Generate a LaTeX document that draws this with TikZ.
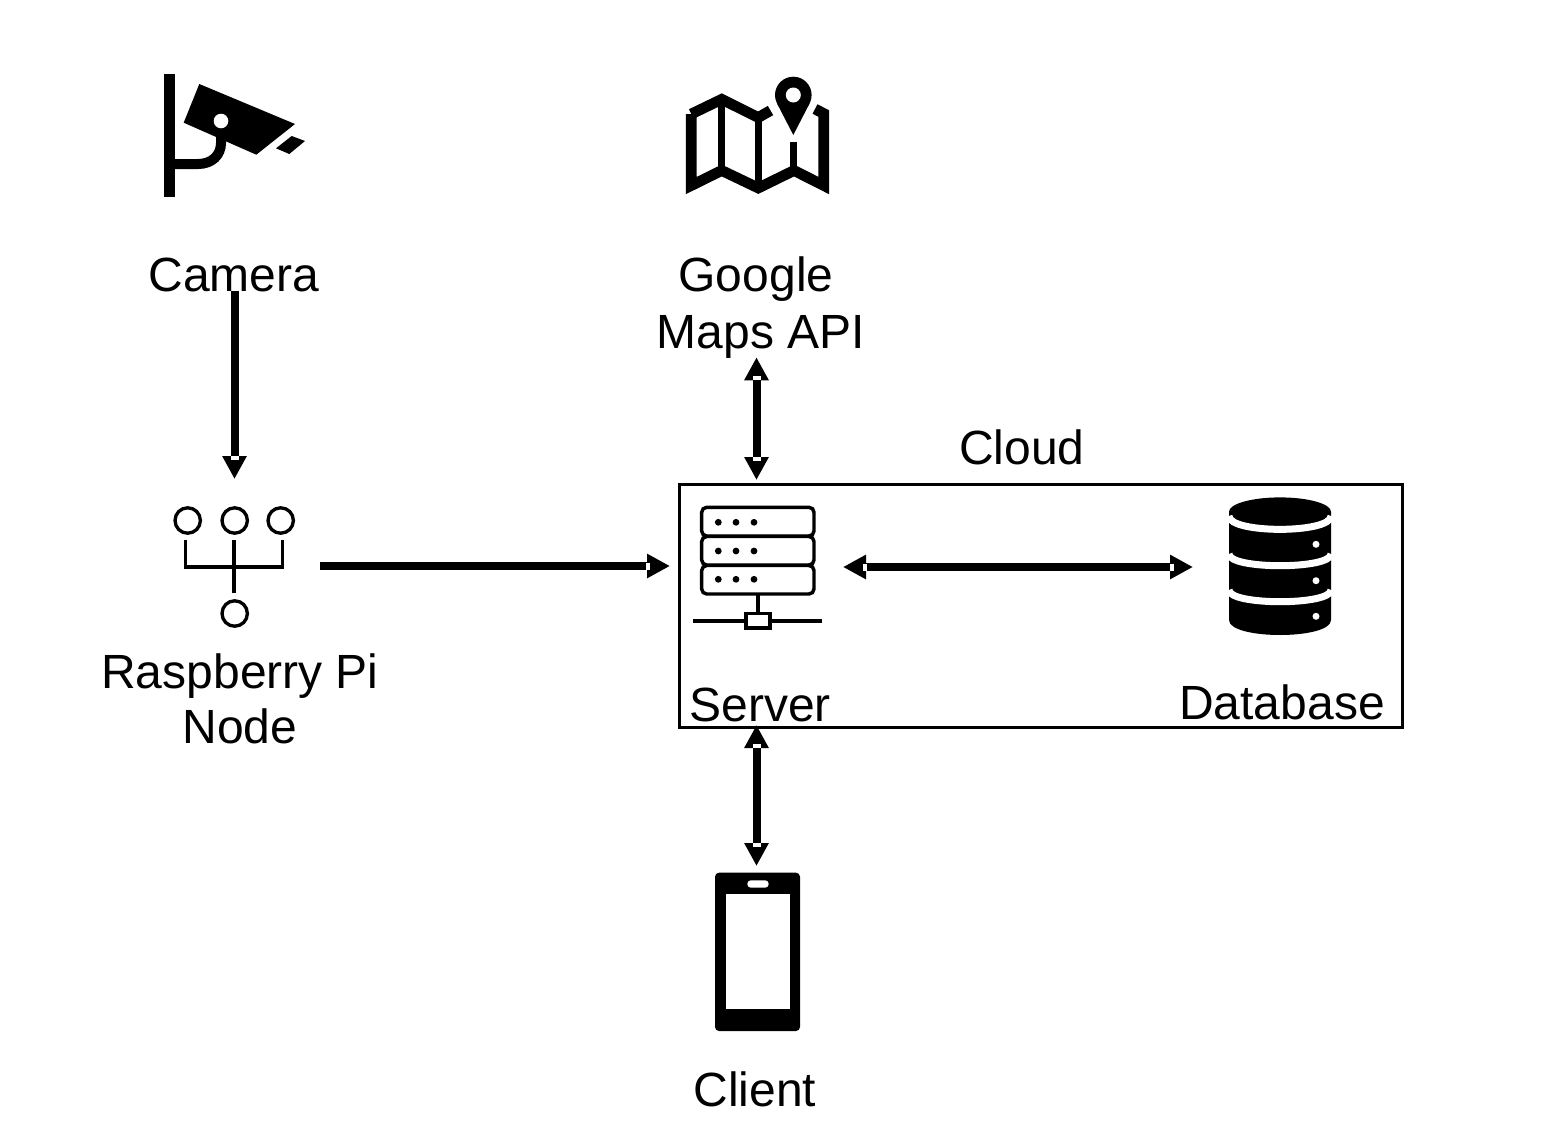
\documentclass[tikz,border=0pt]{standalone}
\usepackage{fontspec}
\setmainfont{Liberation Sans}
\usetikzlibrary{arrows.meta}
\def\pu{0.75pt}
\tikzset{
  x=0.75pt,y=-0.75pt,
  lbl/.style={inner sep=0pt,anchor=base,font=\fontsize{36}{40}\selectfont,text=black},
  anchorbox/.style={inner sep=0pt,outer sep=0pt,draw=none,fill=none},
  thin line/.style={draw=black,line width=2.5pt},
  flow/.style={draw=black,line width=6pt,-{Triangle[length=17.25pt,width=17.25pt,fill=black]}},
  biflow/.style={draw=black,line width=6pt,{Triangle[length=17.25pt,width=17.25pt,fill=black]}-{Triangle[length=17.25pt,width=17.25pt,fill=black]}},
  cloudbox/.style={draw=black,line width=2.25pt,inner sep=0pt,fill=none},
  notch/.style={fill=white,draw=none},
  rack/.style={draw=black,line width=2.6pt,rounded corners=3.75pt,fill=white},
  mapline/.style={draw=black,line width=8pt,miter limit=10},
  mapfold/.style={draw=black,line width=5.25pt},
  band/.style={draw=white,line width=5.25pt}
}
\newcommand{\vnotch}[2]{\fill[notch] (#1-4,#2) rectangle (#1+4,#2+4);}
\newcommand{\hnotch}[2]{\fill[notch] (#1,#2-3.5) rectangle (#1+4,#2+3.5);}
\newcommand{\bandcurve}[2]{\draw[band] (1229,#1) .. controls (1229,#1+#2) and (1331,#1+#2) .. (1331,#1);}
\begin{document}
\begin{tikzpicture}
\useasboundingbox (0,0) rectangle (1568,1142);

% labels
\node[lbl,text depth=0pt] (camera) at (234,291) {Camera};
\node[lbl] (google) at (756,291) {Google};
\node[lbl,text depth=6.75pt] (maps) at (757,348) {\hspace*{3pt}Maps API\hspace*{-3pt}};
\node[lbl] (cloudlabel) at (1022,464) {Cloud};
\node[lbl] (rasp) at (240,688) {Raspberry Pi};
\node[lbl] (pinode) at (240,743) {Node};
\node[lbl] (serverlabel) at (760,721) {Server};
\node[lbl] (dblabel) at (1282,719) {Database};
\node[lbl] (clientlabel) at (755,1106) {Client};

% cloud frame
\node[cloudbox,minimum width=723*\pu,minimum height=243*\pu] (cloud) at (1041,606) {};

% invisible icon extents, used by the connectors
\node[anchorbox,minimum width=171*\pu,minimum height=174*\pu] (pi) at (234.5,566) {};
\node[anchorbox,minimum width=173*\pu,minimum height=245*\pu] (srv) at (756.5,602.5) {};
\node[anchorbox,minimum width=138*\pu,minimum height=24*\pu] (db) at (1262,567) {};
\node[anchorbox,minimum width=85*\pu,minimum height=165*\pu] (client) at (756.5,948.5) {};

% camera icon
\fill (164,74) rectangle (174.7,197);
\fill (199.3,84) -- (295,124) -- (256.3,154.7) -- (183.7,122.7) -- cycle;
\fill (291.7,136) -- (305,141) -- (289.3,154) -- (276,148.3) -- cycle;
\draw[line width=7.5pt] (174,164) -- (198,164) .. controls (212,164) and (221,155) .. (221,143) -- (221,135);
\fill[white] (221,121) circle (7.3);

% map icon
\draw[mapline] (691.3,114) -- (691.3,185.5) -- (721.7,170.5) -- (758.3,188) -- (794,170.5) -- (823.7,185.5) -- (823.7,113.5) -- (815,109);
\draw[mapline] (770.5,110.5) -- (758.3,117.5) -- (721.7,99.3) -- (691.3,114);
\draw[mapfold] (721.7,100) -- (721.7,171);
\draw[mapfold] (758.3,117) -- (758.3,187);
\draw[mapfold] (793.3,141.7) -- (793.3,171);
\fill (793.3,95) circle (18.3);
\fill (777,103.4) -- (793.3,135) -- (809.6,103.4) -- cycle;
\fill[white] (793.3,95) circle (7.5);

% raspberry pi icon
\foreach \cx/\cy in {187.7/520.5,234.7/520.5,280.7/520.5,234.7/613.5}
  \draw[thin line] (\cx,\cy) circle (12.7);
\draw[thin line] (185.5,540) -- (185.5,567) -- (282.8,567) -- (282.8,540);
\draw[thin line] (234,540) -- (234,593.3);

% server icon
\draw[rack] (701.7,507.3) rectangle (814,536);
\draw[rack] (701.7,536.5) rectangle (814,565);
\draw[rack] (701.7,565.5) rectangle (814,594);
\foreach \dy in {522.3,551,579.3}
  \foreach \dx in {718.3,736,754}
    \fill (\dx,\dy) circle (3.4);
\draw[thin line] (758,594) -- (758,613);
\draw[thin line] (693.3,621) -- (821.7,621);
\draw[thin line,fill=white] (746,613.5) rectangle (770,628);

% database icon
\fill (1229,511.7) -- (1229,620) .. controls (1229,640) and (1331,640) .. (1331,620) -- (1331,511.7) -- cycle;
\fill (1280,511.7) ellipse [x radius=51,y radius=14.3];
\bandcurve{516}{17.8}
\bandcurve{554}{15.6}
\bandcurve{590}{15.6}
\foreach \dy in {544.3,580.7,616.3}
  \fill[white] (1316,\dy) circle (3.5);

% phone icon
\fill[rounded corners=3pt] (715,872.7) rectangle (800,1031);
\fill[white] (725.7,894.3) rectangle (789.7,1009.3);
\fill[white,rounded corners=2.7pt] (747.3,880.3) rectangle (768.7,887.7);

% connectors
\draw[flow] (camera.south -| pi.north) -- (pi.north);
\draw[flow] (pi.east) -- (srv.west |- pi.east);
\draw[biflow] (srv.east |- db.west) -- (db.west);
\draw[biflow] (maps.south -| srv.north) -- (srv.north);
\draw[biflow] (srv.south) -- (client.north);

% white notches where shafts meet heads
\vnotch{234.5}{456}
\hnotch{646}{566}
\hnotch{863}{567}
\hnotch{1170}{567}
\vnotch{756.5}{376}
\vnotch{756.5}{457}
\vnotch{756.5}{744}
\vnotch{756.5}{843}
\end{tikzpicture}
\end{document}
